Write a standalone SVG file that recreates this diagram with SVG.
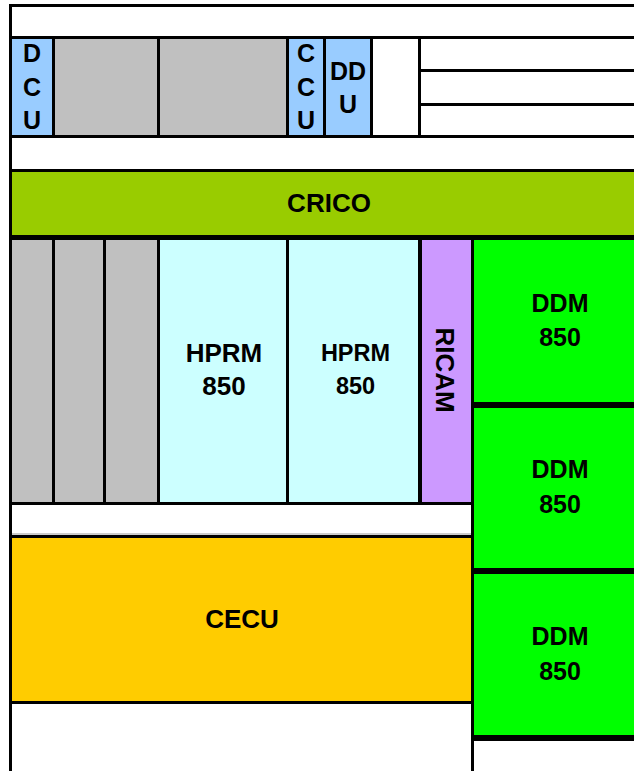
<svg xmlns="http://www.w3.org/2000/svg" width="634" height="771" viewBox="0 0 634 771">
<style>
.ln{fill:#000}
.t{font-family:"Liberation Sans",Arial,sans-serif;font-weight:bold;font-size:26px;fill:#000;text-anchor:middle}
.s{font-size:25px}
.blue{fill:#99CCFF}.gray{fill:#C0C0C0}.cyan{fill:#CCFFFF}.purple{fill:#CC99FF}.green{fill:#00FF00}.olive{fill:#99CC00}.yellow{fill:#FFCC00}
</style>
<rect x="0" y="0" width="634" height="771" fill="#fff"/>

<!-- Row 1 -->
<g id="dcu"><rect class="blue" x="12" y="39" width="40" height="96"/>
<text class="t s" x="32" y="62">D</text><text class="t s" x="32" y="96">C</text><text class="t s" x="32" y="129">U</text></g>
<g id="slot-top-1"><rect class="gray" x="55" y="39" width="102" height="96"/></g>
<g id="slot-top-2"><rect class="gray" x="160" y="39" width="126" height="96"/></g>
<g id="ccu"><rect class="blue" x="289" y="39" width="34" height="96"/>
<text class="t s" x="306" y="62">C</text><text class="t s" x="306" y="96">C</text><text class="t s" x="306" y="129">U</text></g>
<g id="ddu"><rect class="blue" x="326" y="39" width="44" height="96"/>
<text class="t s" x="348" y="80">DD</text><text class="t s" x="348" y="113">U</text></g>
<g id="slot-top-empty"><rect fill="#fff" x="373" y="39" width="45" height="96"/></g>
<g id="slot-top-right"><rect fill="#fff" x="421" y="39" width="213" height="96"/></g>

<!-- CRICO -->
<g id="crico"><rect class="olive" x="12" y="172" width="622" height="63"/>
<text class="t" x="329" y="212">CRICO</text></g>

<!-- Row 3 -->
<g id="slot-mid-1"><rect class="gray" x="12" y="240" width="40" height="262"/></g>
<g id="slot-mid-2"><rect class="gray" x="55" y="240" width="48" height="262"/></g>
<g id="slot-mid-3"><rect class="gray" x="106" y="240" width="51" height="262"/></g>
<g id="hprm-1"><rect class="cyan" x="160" y="240" width="126" height="262"/>
<text class="t" x="224" y="362">HPRM</text><text class="t" x="224" y="395">850</text></g>
<g id="hprm-2"><rect class="cyan" x="289" y="240" width="129" height="262"/>
<text class="t" style="font-size:23.5px" x="355.5" y="361">HPRM</text><text class="t" style="font-size:23.5px" x="355.5" y="394">850</text></g>
<g id="ricam"><rect class="purple" x="422" y="240" width="49" height="262"/>
<text class="t" transform="translate(436,370) rotate(90)" x="0" y="0">RICAM</text></g>

<g id="ddm-1"><rect class="green" x="474" y="240" width="160" height="162"/>
<text class="t s" x="560" y="312">DDM</text><text class="t s" x="560" y="346">850</text></g>
<g id="ddm-2"><rect class="green" x="474" y="408" width="160" height="160"/>
<text class="t s" x="560" y="478">DDM</text><text class="t s" x="560" y="513">850</text></g>
<g id="ddm-3"><rect class="green" x="474" y="574" width="160" height="161"/>
<text class="t s" x="560" y="645">DDM</text><text class="t s" x="560" y="680">850</text></g>

<g id="cecu"><rect class="yellow" x="12" y="538" width="459" height="163"/>
<text class="t" x="242" y="628">CECU</text></g>

<!-- frame lines -->
<g id="connectors">
<rect class="ln" x="9" y="4" width="3" height="767"/>
<rect class="ln" x="9" y="4" width="625" height="3"/>
<rect class="ln" x="9" y="36" width="625" height="3"/>
<rect class="ln" x="9" y="135" width="625" height="3"/>
<rect class="ln" x="52" y="36" width="3" height="102"/>
<rect class="ln" x="157" y="36" width="3" height="102"/>
<rect class="ln" x="286" y="36" width="3" height="102"/>
<rect class="ln" x="323" y="36" width="3" height="102"/>
<rect class="ln" x="370" y="36" width="3" height="102"/>
<rect class="ln" x="418" y="36" width="3" height="102"/>
<rect class="ln" x="421" y="69" width="213" height="3"/>
<rect class="ln" x="421" y="103" width="213" height="3"/>
<rect class="ln" x="9" y="169" width="625" height="3"/>
<rect class="ln" x="9" y="235" width="625" height="5"/>
<rect class="ln" x="52" y="240" width="3" height="262"/>
<rect class="ln" x="103" y="240" width="3" height="262"/>
<rect class="ln" x="157" y="240" width="3" height="262"/>
<rect class="ln" x="286" y="240" width="3" height="262"/>
<rect class="ln" x="418" y="240" width="4" height="262"/>
<rect class="ln" x="471" y="240" width="3" height="531"/>
<rect class="ln" x="9" y="502" width="462" height="3"/>
<rect fill="#ccc" x="12" y="533" width="459" height="2"/>
<rect class="ln" x="9" y="535" width="462" height="3"/>
<rect class="ln" x="9" y="701" width="462" height="3"/>
<rect class="ln" x="474" y="402" width="160" height="6"/>
<rect class="ln" x="474" y="568" width="160" height="6"/>
<rect class="ln" x="474" y="735" width="160" height="6"/>
</g>
</svg>
